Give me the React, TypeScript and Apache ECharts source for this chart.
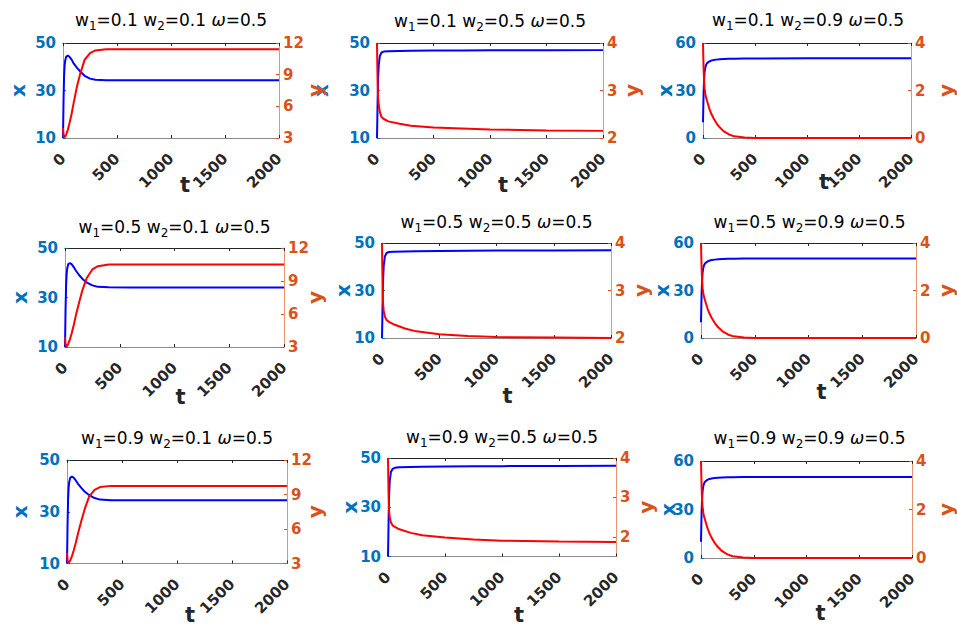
import React, { useEffect, useRef } from "react";
import * as echarts from "echarts";

// ---------- DATA ----------
const tA = [0, 5, 10, 15, 20, 30, 45, 60, 80, 100, 130, 160, 200, 250, 300, 400, 600, 1000, 1500, 2000];
const tB = [0, 3, 6, 10, 15, 25, 40, 60, 100, 200, 300, 500, 750, 1000, 1500, 2000];
const tC = [0, 3, 6, 10, 15, 22, 30, 40, 60, 80, 100, 130, 160, 200, 250, 300, 400, 500, 1000, 2000];

// w1=0.1 w2=0.1
const x11 = [10, 26, 36, 40.5, 42.5, 44.3, 44.7, 44.2, 43, 41.3, 39.5, 38, 36.2, 35, 34.5, 34.3, 34.3, 34.3, 34.3, 34.3];
const y11 = [3.95, 3.3, 3.1, 3.07, 3.12, 3.35, 3.8, 4.4, 5.3, 6.4, 7.9, 9.1, 10.4, 11.05, 11.3, 11.4, 11.4, 11.4, 11.4, 11.4];
// w1=0.1 w2=0.5
const x12 = [10, 18, 27, 35, 40.5, 44.5, 46, 46.4, 46.5, 46.6, 46.7, 46.8, 46.85, 46.9, 46.95, 47];
const y12 = [4, 3.5, 3.1, 2.85, 2.7, 2.55, 2.44, 2.4, 2.35, 2.3, 2.26, 2.22, 2.2, 2.18, 2.16, 2.15];
// w1=0.1 w2=0.9
const x13 = [10, 20, 29, 36, 41.5, 44.5, 46.2, 47.3, 48.3, 48.9, 49.2, 49.5, 49.7, 49.9, 50.0, 50.1, 50.2, 50.2, 50.3, 50.3];
const y13 = [4, 3.4, 2.9, 2.45, 2.1, 1.85, 1.7, 1.55, 1.25, 1.02, 0.84, 0.62, 0.45, 0.28, 0.15, 0.07, 0.02, 0.005, 0, 0];
// w1=0.5 w2=0.1
const x21 = [10, 25, 35, 39.5, 41.7, 43.5, 43.9, 43.5, 42.3, 40.8, 39, 37.5, 36, 34.9, 34.3, 34.1, 34, 34, 34, 34];
const y21 = [3.9, 3.3, 3.08, 3.05, 3.1, 3.3, 3.7, 4.2, 5.0, 5.9, 7.1, 8.2, 9.3, 10.05, 10.35, 10.5, 10.5, 10.5, 10.5, 10.5];
// w1=0.5 w2=0.5
const x22 = [10, 18, 27, 35, 40.5, 44.3, 45.8, 46.2, 46.3, 46.4, 46.5, 46.6, 46.7, 46.8, 46.85, 46.9];
const y22 = [4, 3.4, 2.95, 2.7, 2.57, 2.45, 2.38, 2.34, 2.29, 2.2, 2.14, 2.08, 2.04, 2.02, 2.01, 2.0];
// w1=0.5 w2=0.9
const x23 = [10, 20, 29, 36, 41.5, 44.5, 46.2, 47.3, 48.3, 48.9, 49.2, 49.5, 49.7, 49.9, 50.0, 50.1, 50.2, 50.2, 50.2, 50.2];
const y23 = [4, 3.4, 2.9, 2.45, 2.1, 1.85, 1.7, 1.55, 1.25, 1.02, 0.84, 0.62, 0.45, 0.28, 0.15, 0.07, 0.02, 0.005, 0, 0];
// w1=0.9 w2=0.1
const x31 = [10, 25, 35, 39.3, 41.5, 43.2, 43.6, 43.2, 42.1, 40.8, 39.2, 37.8, 36.5, 35.3, 34.7, 34.4, 34.4, 34.4, 34.4, 34.4];
const y31 = [3.93, 3.3, 3.08, 3.05, 3.1, 3.28, 3.65, 4.1, 4.8, 5.6, 6.7, 7.7, 8.8, 9.4, 9.65, 9.75, 9.75, 9.75, 9.75, 9.75];
// w1=0.9 w2=0.5
const x32 = [10, 18, 27, 35, 40.5, 44.2, 45.6, 46.0, 46.2, 46.3, 46.4, 46.5, 46.6, 46.7, 46.8, 46.9];
const y32 = [4, 3.4, 2.95, 2.65, 2.5, 2.37, 2.29, 2.25, 2.19, 2.1, 2.04, 1.98, 1.93, 1.9, 1.88, 1.87];
// w1=0.9 w2=0.9
const x33 = [10, 20, 29, 36, 41.5, 44.5, 46.2, 47.3, 48.3, 48.9, 49.2, 49.5, 49.7, 49.8, 49.9, 50.0, 50.1, 50.1, 50.1, 50.1];
const y33 = [4, 3.4, 2.9, 2.45, 2.1, 1.85, 1.7, 1.55, 1.25, 1.02, 0.84, 0.62, 0.45, 0.28, 0.15, 0.07, 0.02, 0.005, 0, 0];

const w1Labels = ["0.1", "0.1", "0.1", "0.5", "0.5", "0.5", "0.9", "0.9", "0.9"];
const w2Labels = ["0.1", "0.5", "0.9", "0.1", "0.5", "0.9", "0.1", "0.5", "0.9"];
const omegaLabel = "0.5";
const xTicks = [0, 500, 1000, 1500, 2000];
const leftTicksA = [10, 30, 50];
const leftTicksC = [0, 30, 60];
const rightTicksA = [3, 6, 9, 12];
const rightTicksB = [2, 3, 4];
const rightTicksC = [0, 2, 4];

// ---------- LAYOUT / STYLE ----------
const panels = [
  { l: 63, t: 43, w: 216, h: 95, tx: x11, ty: y11, tt: tA, lmin: 10, lmax: 50, lt: leftTicksA, rmin: 3, rmax: 12, rt: rightTicksA, titleY: 20, xg: 45, yg: 36, tg: 47, ts: 14 },
  { l: 377, t: 43, w: 226, h: 95, tx: x12, ty: y12, tt: tB, lmin: 10, lmax: 50, lt: leftTicksA, rmin: 2, rmax: 4, rt: rightTicksB, titleY: 21, xg: 56, yg: 29, tg: 47, ts: 13 },
  { l: 703, t: 43, w: 210, h: 95, tx: x13, ty: y13, tt: tC, lmin: 0, lmax: 60, lt: leftTicksC, rmin: 0, rmax: 4, rt: rightTicksC, titleY: 20, xg: 38, yg: 35, tg: 44, ts: 17 },
  { l: 65, t: 248, w: 219, h: 99, tx: x21, ty: y21, tt: tA, lmin: 10, lmax: 50, lt: leftTicksA, rmin: 3, rmax: 12, rt: rightTicksA, titleY: 227, xg: 45, yg: 31, tg: 50, ts: 6 },
  { l: 382, t: 243, w: 229, h: 95, tx: x22, ty: y22, tt: tB, lmin: 10, lmax: 50, lt: leftTicksA, rmin: 2, rmax: 4, rt: rightTicksB, titleY: 222, xg: 39, yg: 30, tg: 58, ts: 11 },
  { l: 701, t: 243, w: 217, h: 95, tx: x23, ty: y23, tt: tC, lmin: 0, lmax: 60, lt: leftTicksC, rmin: 0, rmax: 4, rt: rightTicksC, titleY: 222, xg: 39, yg: 30, tg: 54, ts: 13 },
  { l: 67, t: 460, w: 220, h: 104, tx: x31, ty: y31, tt: tA, lmin: 10, lmax: 50, lt: leftTicksA, rmin: 3, rmax: 12, rt: rightTicksA, titleY: 438, xg: 47, yg: 28, tg: 51, ts: 13 },
  { l: 388, t: 458, w: 228, h: 104, tx: x32, ty: y32, tt: tB, lmin: 10, lmax: 50, lt: leftTicksA, rmin: 1.5, rmax: 4, rt: rightTicksB, titleY: 437, xg: 38, yg: 30, tg: 58, ts: 17 },
  { l: 701, t: 461, w: 217, h: 97, tx: x33, ty: y33, tt: tC, lmin: 0, lmax: 60, lt: leftTicksC, rmin: 0, rmax: 4, rt: rightTicksC, titleY: 438, xg: 33, yg: 34, tg: 55, ts: 14 },
];

const FONT = "'DejaVu Sans', 'Liberation Sans', Arial, sans-serif";
const BLUE_AX = "#0072BD";
const ORANGE_AX = "#D95319";
const BLUE_LINE_AX = "#6aa9d6";
const ORANGE_LINE_AX = "#e8956f";
const DARK = "#262626";
const plain = (v: number) => String(v);

function buildOption() {
  const n = panels.length;
  const grid = panels.map((p) => ({ left: p.l, top: p.t, width: p.w, height: p.h, containLabel: false }));
  const title = panels.map((p, i) => ({
    text: `{n|w}{s|1}{n|=${w1Labels[i]} w}{s|2}{n|=${w2Labels[i]} }{i|ω}{n|=${omegaLabel}}`,
    left: p.l + p.w / 2,
    top: p.titleY - 12,
    textAlign: "center",
    padding: 0,
    textStyle: {
      fontFamily: FONT,
      fontSize: 17,
      fontWeight: "normal",
      color: "#000",
      rich: {
        n: { fontFamily: FONT, fontSize: 17, lineHeight: 24, color: "#000" },
        s: { fontFamily: FONT, fontSize: 12, lineHeight: 11, verticalAlign: "bottom", color: "#000" },
        i: { fontFamily: FONT, fontSize: 17, lineHeight: 24, fontStyle: "italic", color: "#000" },
      },
    },
  }));

  const xAxis: any[] = [];
  panels.forEach((p, i) => {
    xAxis.push({
      gridIndex: i,
      type: "value",
      position: "bottom",
      min: 0,
      max: 2000,
      interval: 500,
      axisLine: { show: true, onZero: false, lineStyle: { color: "#8a8a8a", width: 1.2 } },
      axisTick: { show: true, inside: true, length: 3, lineStyle: { color: DARK } },
      axisLabel: {
        rotate: 45,
        fontSize: 15,
        fontWeight: "bold",
        color: DARK,
        fontFamily: FONT,
        margin: 18,
        customValues: xTicks,
        formatter: plain,
      },
      splitLine: { show: false },
      name: "t",
      nameLocation: "middle",
      nameGap: p.tg,
      nameMoveOverlap: false,
      nameTextStyle: {
        fontSize: 21,
        fontWeight: "bold",
        color: DARK,
        fontFamily: FONT,
        verticalAlign: "middle",
        align: "center",
        padding: [0, 0, 0, p.ts * 2],
      },
    });
  });
  panels.forEach((p, i) => {
    xAxis.push({
      gridIndex: i,
      type: "value",
      position: "top",
      min: 0,
      max: 2000,
      interval: 500,
      axisLine: { show: true, onZero: false, lineStyle: { color: DARK, width: 1 } },
      axisTick: { show: true, inside: true, length: 3, lineStyle: { color: DARK } },
      axisLabel: { show: false },
      splitLine: { show: false },
    });
  });

  const yAxis: any[] = [];
  panels.forEach((p, i) => {
    yAxis.push({
      gridIndex: i,
      type: "value",
      position: "left",
      min: p.lmin,
      max: p.lmax,
      axisLine: { show: true, onZero: false, lineStyle: { color: BLUE_LINE_AX, width: 1 } },
      axisTick: { show: true, inside: true, length: 3, customValues: p.lt, lineStyle: { color: BLUE_AX } },
      axisLabel: {
        customValues: p.lt,
        fontSize: 15,
        fontWeight: "bold",
        color: BLUE_AX,
        fontFamily: FONT,
        margin: 7,
        formatter: plain,
      },
      splitLine: { show: false },
      name: "x",
      nameLocation: "middle",
      nameRotate: 90,
      nameGap: p.xg,
      nameMoveOverlap: false,
      nameTextStyle: {
        fontSize: 20,
        fontWeight: "bold",
        color: BLUE_AX,
        fontFamily: FONT,
        verticalAlign: "middle",
        align: "center",
      },
    });
  });
  panels.forEach((p, i) => {
    yAxis.push({
      gridIndex: i,
      type: "value",
      position: "right",
      min: p.rmin,
      max: p.rmax,
      axisLine: { show: true, onZero: false, lineStyle: { color: ORANGE_LINE_AX, width: 1 } },
      axisTick: { show: true, inside: true, length: 3, customValues: p.rt, lineStyle: { color: ORANGE_AX } },
      axisLabel: {
        customValues: p.rt,
        fontSize: 15,
        fontWeight: "bold",
        color: ORANGE_AX,
        fontFamily: FONT,
        margin: 4,
        formatter: plain,
      },
      splitLine: { show: false },
      name: "y",
      nameLocation: "middle",
      nameRotate: 90,
      nameGap: p.yg,
      nameMoveOverlap: false,
      nameTextStyle: {
        fontSize: 20,
        fontWeight: "bold",
        color: ORANGE_AX,
        fontFamily: FONT,
        verticalAlign: "middle",
        align: "center",
      },
    });
  });

  const series: any[] = [];
  panels.forEach((p, i) => {
    series.push({
      type: "line",
      xAxisIndex: i,
      yAxisIndex: i,
      data: p.tt.map((t, k) => [t, p.tx[k]]),
      showSymbol: false,
      symbol: "none",
      lineStyle: { color: "#0000FF", width: 2 },
      itemStyle: { color: "#0000FF" },
      clip: true,
      z: 3,
    });
    series.push({
      type: "line",
      xAxisIndex: i,
      yAxisIndex: n + i,
      data: p.tt.map((t, k) => [t, p.ty[k]]),
      showSymbol: false,
      symbol: "none",
      lineStyle: { color: "#FF0000", width: 2 },
      itemStyle: { color: "#FF0000" },
      clip: true,
      z: 4,
    });
  });

  return {
    animation: false,
    backgroundColor: "#ffffff",
    title,
    grid,
    xAxis,
    yAxis,
    series,
  };
}

export default function App() {
  const ref = useRef<HTMLDivElement>(null);
  useEffect(() => {
    document.body.style.margin = "0";
    if (!ref.current) return;
    const chart = echarts.init(ref.current, null, { renderer: "svg" });
    chart.setOption(buildOption());
    return () => chart.dispose();
  }, []);
  return <div ref={ref} style={{ width: 957, height: 626 }} />;
}
